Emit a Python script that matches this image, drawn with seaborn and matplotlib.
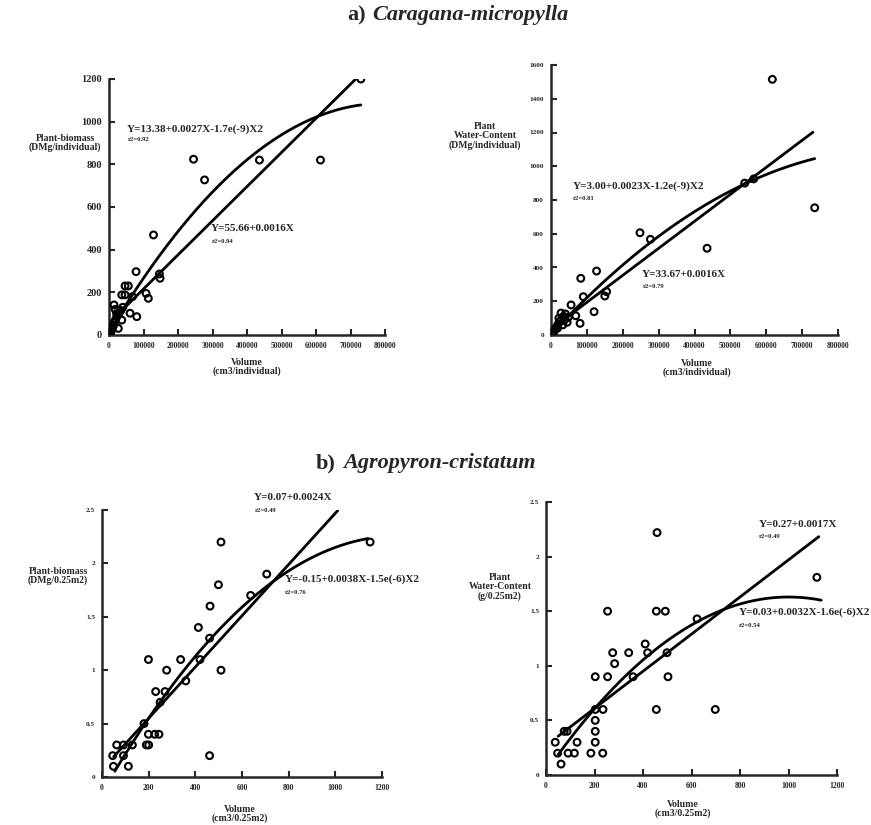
import numpy as np
import pandas as pd
import seaborn as sns
import matplotlib
matplotlib.use('Agg')
import matplotlib.pyplot as plt

# ---- data ----
# a) Caragana-micropylla, plant biomass vs volume
p1_x = [730000, 245000, 277000, 436000, 613000, 129000, 78500, 146000, 148000, 107500,
        114000, 46500, 56000, 37000, 46500, 14500, 61000, 80500, 37000, 27000, 68000,
        3000, 6000, 9000, 12000, 16000, 20000, 24000, 28000, 32000, 18000, 22000,
        10000, 5000, 40000, 34000]
p1_y = [1200, 824, 727, 820, 820, 469, 297, 286, 266, 195,
        172, 230, 230, 188, 188, 141, 102, 86, 70, 31, 180,
        5, 15, 30, 40, 60, 75, 90, 100, 110, 120, 100,
        45, 20, 130, 115]
# a) Caragana-micropylla, water content vs volume
p2_x = [617000, 735000, 435000, 248000, 277000, 127000, 83000, 90000, 120000, 150000,
        155000, 81000, 56000, 69000, 540000, 565000, 3000, 8000, 12000, 16000, 20000,
        25000, 30000, 35000, 40000, 45000, 22000, 28000, 33000, 38000, 48000, 18000]
p2_y = [1515, 754, 514, 606, 567, 379, 336, 227, 138, 231,
        257, 69, 178, 114, 900, 925, 5, 20, 35, 50, 65,
        80, 95, 110, 125, 75, 100, 130, 60, 90, 105, 40]
# b) Agropyron-cristatum, plant biomass vs volume
p3_x = [510, 1149, 499, 706, 637, 463, 413, 461, 199, 337, 420, 277, 510, 359, 230, 270,
        249, 180, 199, 226, 244, 190, 200, 63, 92, 130, 46, 461, 49, 113, 92]
p3_y = [2.2, 2.2, 1.8, 1.9, 1.7, 1.6, 1.4, 1.3, 1.1, 1.1, 1.1, 1.0, 1.0, 0.9, 0.8, 0.8,
        0.7, 0.5, 0.4, 0.4, 0.4, 0.3, 0.3, 0.3, 0.3, 0.3, 0.2, 0.2, 0.1, 0.1, 0.2]
# b) Agropyron-cristatum, water content vs volume
p4_x = [458, 1117, 254, 455, 492, 623, 409, 275, 341, 419, 499, 283, 203, 254, 503, 359,
        203, 235, 455, 698, 203, 38, 87, 128, 203, 203, 48, 91, 117, 185, 234, 62, 75]
p4_y = [2.22, 1.81, 1.5, 1.5, 1.5, 1.43, 1.2, 1.12, 1.12, 1.12, 1.12, 1.02, 0.9, 0.9, 0.9, 0.9,
        0.6, 0.6, 0.6, 0.6, 0.5, 0.3, 0.4, 0.3, 0.4, 0.3, 0.2, 0.2, 0.2, 0.2, 0.2, 0.1, 0.4]

# fitted equations printed on the chart: (intercept, b1, b2)
p1_lin, p1_quad = [55.66, 0.0016, 0.0], [13.38, 0.0027, -1.7e-9]
p2_lin, p2_quad = [33.67, 0.0016, 0.0], [3.00, 0.0023, -1.2e-9]
p3_lin, p3_quad = [0.07, 0.0024, 0.0], [-0.15, 0.0038, -1.5e-6]
p4_lin, p4_quad = [0.27, 0.0017, 0.0], [0.03, 0.0032, -1.6e-6]
# x extent of each drawn fit line
p1_rng = [[2000, 715000], [2000, 730000]]
p2_rng = [[2000, 730000], [2000, 735000]]
p3_rng = [[50, 1010], [55, 1140]]
p4_rng = [[50, 1125], [50, 1135]]

labels_eq = {
    1: ['Y=55.66+0.0016X', 'r2=0.94', 'Y=13.38+0.0027X-1.7e(-9)X2', 'r2=0.92'],
    2: ['Y=33.67+0.0016X', 'r2=0.79', 'Y=3.00+0.0023X-1.2e(-9)X2', 'r2=0.81'],
    3: ['Y=0.07+0.0024X', 'r2=0.49', 'Y=-0.15+0.0038X-1.5e(-6)X2', 'r2=0.76'],
    4: ['Y=0.27+0.0017X', 'r2=0.49', 'Y=0.03+0.0032X-1.6e(-6)X2', 'r2=0.54'],
}

sns.set_style('ticks')
plt.rcParams['font.family'] = ['Liberation Serif', 'DejaVu Serif']
plt.rcParams['font.weight'] = 'bold'

W, H = 871, 825
fig = plt.figure(figsize=(W / 100, H / 100), dpi=100)


def px(x, y):
    return x / W, 1 - y / H


def add_ax(l, t, r, b):
    return fig.add_axes([l / W, 1 - b / H, (r - l) / W, (b - t) / H])


def curve(coef, rng):
    xs = np.linspace(rng[0], rng[1], 200)
    return pd.DataFrame({'x': xs, 'y': coef[0] + coef[1] * xs + coef[2] * xs ** 2})


def panel(ax, xs, ys, lin, quad, rng, xlim, ylim, xt, yt, ytl, xfs, yfs):
    df = pd.DataFrame({'x': xs, 'y': ys})
    sns.lineplot(data=curve(lin, rng[0]), x='x', y='y', ax=ax, color='black', lw=2.0)
    sns.lineplot(data=curve(quad, rng[1]), x='x', y='y', ax=ax, color='black', lw=2.0)
    sns.scatterplot(data=df, x='x', y='y', ax=ax, s=24, facecolor='none',
                    edgecolor='black', linewidth=1.5, zorder=3)
    ax.set_xlim(*xlim)
    ax.set_ylim(*ylim)
    ax.set_xticks(xt)
    ax.set_xticklabels([str(v) for v in xt], fontsize=xfs, fontweight='bold')
    ax.set_yticks(yt)
    ax.set_yticklabels(ytl, fontsize=yfs, fontweight='bold')
    ax.set_xlabel('')
    ax.set_ylabel('')
    sns.despine(ax=ax)
    for s in ['left', 'bottom']:
        ax.spines[s].set_linewidth(1.8)
    ax.tick_params(direction='in', length=4, width=1.5, pad=5)
    ax.patch.set_alpha(0)


def eqs(ax, k, lin_xy, quad_xy, big=8.0, small=4.8):
    t = labels_eq[k]
    for (x, y), (a, b) in [(lin_xy, t[0:2]), (quad_xy, t[2:4])]:
        ax.text(x[0], x[1], a, fontsize=big, fontweight='bold', va='center', ha='left')
        ax.text(y[0], y[1], b, fontsize=small, fontweight='bold', va='center', ha='left')


# panel 1
ax1 = add_ax(109, 79, 385, 335)
panel(ax1, p1_x, p1_y, p1_lin, p1_quad, p1_rng, (0, 800000), (0, 1200),
      list(range(0, 800001, 100000)), list(range(0, 1201, 200)),
      [str(v) for v in range(0, 1201, 200)], 5.5, 7.5)
eqs(ax1, 1, ((296000, 497), (298000, 437)), ((51000, 966), (55000, 915)))

# panel 2
ax2 = add_ax(551, 65, 838, 335)
panel(ax2, p2_x, p2_y, p2_lin, p2_quad, p2_rng, (0, 800000), (0, 1600),
      list(range(0, 800001, 100000)), list(range(0, 1601, 200)),
      [str(v) for v in range(0, 1601, 200)], 5.5, 5.2)
eqs(ax2, 2, ((253000, 360), (257000, 290)), ((62000, 883), (62000, 806)))

# panel 3
ax3 = add_ax(102, 510, 382, 777)
yt = [0, 0.5, 1, 1.5, 2, 2.5]
ytl = ['0', '0.5', '1', '1.5', '2', '2.5']
panel(ax3, p3_x, p3_y, p3_lin, p3_quad, p3_rng, (0, 1200), (0, 2.5),
      list(range(0, 1201, 200)), yt, ytl, 5.5, 5.2)
eqs(ax3, 3, ((649, 2.62), (655, 2.50)), ((784, 1.85), (784, 1.73)))

# panel 4
ax4 = add_ax(546, 502, 837, 775)
panel(ax4, p4_x, p4_y, p4_lin, p4_quad, p4_rng, (0, 1200), (0, 2.5),
      list(range(0, 1201, 200)), yt, ytl, 5.5, 5.2)
eqs(ax4, 4, ((877, 2.29), (877, 2.18)), ((794, 1.49), (794, 1.37)))

# axis titles
lab = dict(fontsize=7, fontweight='bold', ha='center', va='center', linespacing=1.0)
fig.text(*px(65, 143), 'Plant-biomass\n(DMg/individual)', **lab)
fig.text(*px(247, 367), 'Volume\n(cm3/individual)', **lab)
fig.text(*px(485, 136), 'Plant\nWater-Content\n(DMg/individual)', **lab)
fig.text(*px(697, 368), 'Volume\n(cm3/individual)', **lab)
fig.text(*px(58, 576), 'Plant-biomass\n(DMg/0.25m2)', **lab)
fig.text(*px(240, 814), 'Volume\n(cm3/0.25m2)', **lab)
fig.text(*px(500, 587), 'Plant\nWater-Content\n(g/0.25m2)', **lab)
fig.text(*px(683, 809), 'Volume\n(cm3/0.25m2)', **lab)

# panel group titles
fig.text(*px(366, 15), 'a)', fontsize=16, fontweight='bold', ha='right', va='center')
fig.text(*px(372, 15), 'Caragana-micropylla', fontsize=16, fontweight='bold',
         style='italic', ha='left', va='center')
fig.text(*px(336, 463), 'b)', fontsize=16, fontweight='bold', ha='right', va='center')
fig.text(*px(343, 463), 'Agropyron-cristatum', fontsize=16,
         fontweight='bold', style='italic', ha='left', va='center')

fig.savefig('out.png', dpi=100)
